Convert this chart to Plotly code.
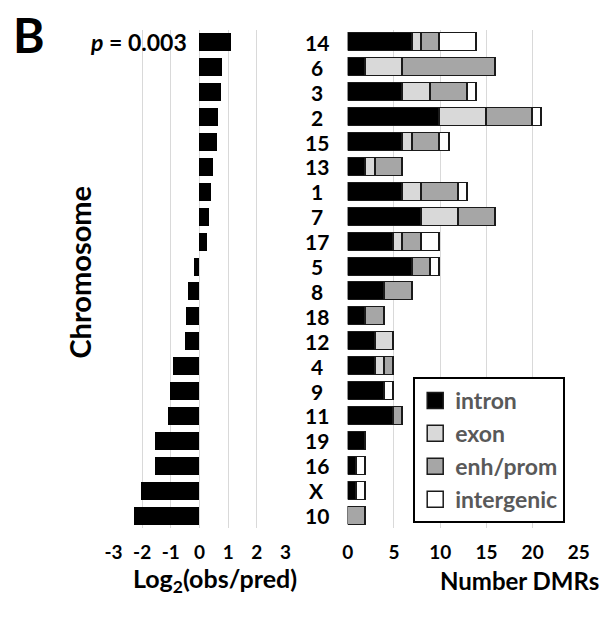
import plotly.graph_objects as go

# Chromosomes, listed top to bottom
chromosomes = ["14", "6", "3", "2", "15", "13", "1", "7", "17", "5",
               "8", "18", "12", "4", "9", "11", "19", "16", "X", "10"]

# Log2(observed / predicted) DMR count per chromosome
log2_ratio = [1.11, 0.81, 0.78, 0.67, 0.62, 0.50, 0.41, 0.35, 0.27, -0.17,
              -0.40, -0.45, -0.48, -0.90, -1.01, -1.08, -1.53, -1.55, -2.02, -2.27]

# DMR counts by genomic context
intron     = [7, 2, 6, 10, 6, 2, 6, 8, 5, 7, 4, 2, 3, 3, 4, 5, 2, 1, 1, 0]
exon       = [1, 4, 3, 5, 1, 1, 2, 4, 1, 0, 0, 0, 2, 1, 0, 0, 0, 0, 0, 0]
enh_prom   = [2, 10, 4, 5, 3, 3, 4, 4, 2, 2, 3, 2, 0, 1, 0, 1, 0, 0, 0, 2]
intergenic = [4, 0, 1, 1, 1, 0, 1, 0, 2, 1, 0, 0, 0, 0, 1, 0, 0, 1, 1, 0]

left_ticks = [-3, -2, -1, 0, 1, 2, 3]
left_ticktext = ["-3", "-2", "-1", "0", "1", "2", "3"]
right_ticks = [0, 5, 10, 15, 20, 25]

W, H = 606, 618
FONT = "Lato"
rows = list(range(len(chromosomes)))
OUTLINE = "#1a1a1a"

fig = go.Figure()

fig.add_trace(go.Bar(
    x=log2_ratio, y=rows, orientation="h", width=0.72,
    marker=dict(color="black", line=dict(width=0)),
    showlegend=False, xaxis="x", yaxis="y", hoverinfo="x",
))

segments = [
    ("intron", intron, "#000000"),
    ("exon", exon, "#d9d9d9"),
    ("enh/prom", enh_prom, "#a6a6a6"),
    ("intergenic", intergenic, "#ffffff"),
]
for name, vals, col in segments:
    fig.add_trace(go.Bar(
        name=name, x=vals, y=rows, orientation="h", width=0.72,
        marker=dict(color=col, line=dict(color=OUTLINE, width=1.5)),
        xaxis="x2", yaxis="y2", showlegend=False, legendgroup=name,
    ))

# Legend keys drawn as square markers so the swatches are a readable size
for name, vals, col in segments:
    fig.add_trace(go.Scatter(
        name=name, x=[None], y=[None], mode="markers", legendgroup=name,
        marker=dict(symbol="square", size=16, color=col,
                    line=dict(color=OUTLINE, width=1.5)),
        xaxis="x2", yaxis="y2",
    ))

ydom = [1 - 528 / H, 1 - 30 / H]
yax = dict(range=[len(rows) - 0.5, -0.5], domain=ydom, showgrid=False,
           showticklabels=False, zeroline=False, showline=False, ticks="")

grid = "#d9d9d9"
tickfont = dict(family=FONT, size=19, color="black", weight="bold")

fig.update_layout(
    width=W, height=H, margin=dict(l=0, r=0, t=0, b=0),
    paper_bgcolor="white", plot_bgcolor="white",
    barmode="stack", bargap=0,
    font=dict(family=FONT),
    xaxis=dict(domain=[108 / W, 286 / W], range=[-3, 3], tickvals=left_ticks,
               ticktext=left_ticktext, showgrid=True, gridcolor=grid, gridwidth=1,
               zeroline=False, showline=False, ticks="", tickfont=tickfont,
               ticklabelstandoff=11, anchor="y", fixedrange=True),
    yaxis=dict(anchor="x", **yax),
    xaxis2=dict(domain=[350.3 / W, 589.3 / W], range=[0, 25], tickvals=right_ticks,
                showgrid=True, gridcolor=grid, gridwidth=1, zeroline=False,
                showline=False, ticks="", tickfont=tickfont,
                ticklabelstandoff=11, anchor="y2", fixedrange=True),
    yaxis2=dict(anchor="x2", **yax),
    legend=dict(
        x=418 / W, y=1 - 377 / H, xanchor="left", yanchor="top",
        bgcolor="white", bordercolor="black", borderwidth=2,
        font=dict(family=FONT, size=23, color="#595959", weight="bold"),
        traceorder="normal", itemclick=False, itemdoubleclick=False,
        itemwidth=30, entrywidth=140,
    ),
)

# Chromosome labels centred between the panels
for r, c in zip(rows, chromosomes):
    fig.add_annotation(text=c, x=318 / W, xref="paper", y=r, yref="y",
                       xanchor="center", yanchor="middle", showarrow=False,
                       font=dict(family=FONT, size=21, color="black", weight="bold"))

fig.add_annotation(text="<i>p</i> = 0.003", x=186 / W, xref="paper", y=0, yref="y",
                   xanchor="right", yanchor="middle", showarrow=False,
                   font=dict(family=FONT, size=23, color="black", weight="bold"))

fig.add_annotation(text="B", x=2 / W, y=1 - 4 / H, xref="paper", yref="paper",
                   xanchor="left", yanchor="top", showarrow=False,
                   font=dict(family=FONT, size=48, color="black", weight="bold"))

fig.add_annotation(text="Chromosome", x=72 / W, y=1 - 272 / H, xref="paper", yref="paper",
                   xanchor="center", yanchor="middle", textangle=-90, showarrow=False,
                   font=dict(family=FONT, size=29, color="black", weight="bold"))

fig.add_annotation(text="Log<sub>2</sub>(obs/pred)", x=213 / W, y=1 - 580 / H,
                   xref="paper", yref="paper", xanchor="center", yanchor="middle",
                   showarrow=False,
                   font=dict(family=FONT, size=25, color="black", weight="bold"))

fig.add_annotation(text="Number DMRs", x=528 / W, y=1 - 580 / H,
                   xref="paper", yref="paper", xanchor="center", yanchor="middle",
                   showarrow=False,
                   font=dict(family=FONT, size=24, color="black", weight="bold"))

fig.write_html("out.html")
